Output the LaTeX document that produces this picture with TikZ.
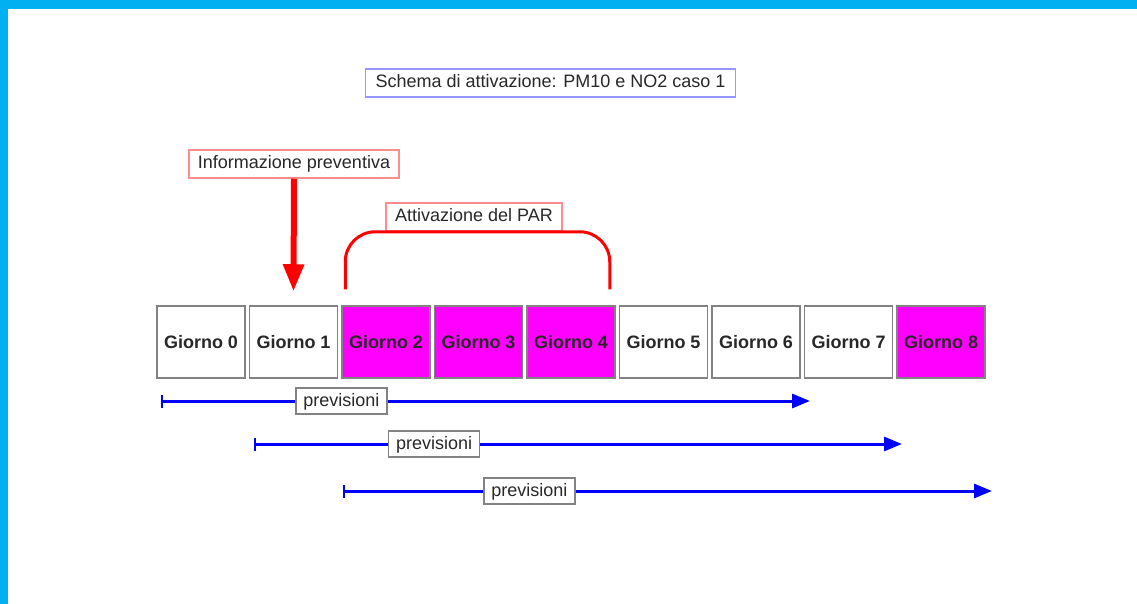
\documentclass[tikz,border=0pt]{standalone}
\usepackage{fontspec}
\setmainfont{Liberation Sans}
\usetikzlibrary{arrows.meta}

\definecolor{frame}{RGB}{0,176,240}
\definecolor{ink}{RGB}{40,40,40}
\definecolor{pinkred}{RGB}{255,140,140}
\definecolor{lilac}{RGB}{150,150,255}
\definecolor{boxgray}{RGB}{130,130,130}
\definecolor{fuchsia}{RGB}{255,0,255}

\tikzset{
	txt/.style={font=\fontsize{18}{21}\selectfont, text=ink},
	labelbox/.style={txt, draw=#1, line width=1.5pt, fill=white, inner sep=0pt, minimum height=28pt, text height=13pt, text depth=3pt},
	day/.style={txt, font=\fontsize{18}{21}\selectfont\bfseries, draw=boxgray, line width=1.5pt, fill=#1, inner sep=0pt, minimum width=88pt, minimum height=72pt},
	fcast/.style={draw=blue, line width=3pt, {Bar[width=13pt,line width=2pt]}-{Triangle[length=18pt,width=14pt]}},
}

\begin{document}
\begin{tikzpicture}[x=1pt, y=-1pt]

		\useasboundingbox (0,0) rectangle (1137,604);
		\fill[frame] (0,0) rectangle (1137,604);
		\fill[white] (8,9) rectangle (1137,604);

		\node[labelbox=lilac, minimum width=370pt] (title) at (550.5,83) {Schema di attivazione: PM10 e NO2 caso 1};

		% giorni
		\foreach \i/\c in {0/white,1/white,2/fuchsia,3/fuchsia,4/fuchsia,5/white,6/white,7/white,8/fuchsia}
			\node[day=\c] (g\i) at ({201+92.5*\i},342) {Giorno \i};

		\node[labelbox=pinkred, minimum width=210pt] (info) at (294,164) {Informazione preventiva};
		\draw[red, line width=6pt, -{Triangle[length=27pt,width=20pt]}] (info.south) -- ([yshift=14pt]g1.north);

		\node[labelbox=pinkred, minimum width=176pt] (par) at (474,217) {Attivazione del PAR};
		\draw[red, line width=3pt, rounded corners=30pt] ([xshift=4pt,yshift=16pt]g2.north west) |- (par.south) -| ([xshift=-6pt,yshift=16pt]g4.north east);

		% previsioni
		\foreach \i/\s/\e/\y/\p in {0/161/810/401/0.278,1/254/902/444/0.278,2/343/992/491/0.287} {
			\coordinate (s\i) at (\s,\y);
			\coordinate (e\i) at (\e,\y);
			\draw[fcast] (s\i) -- (e\i) node[pos=\p, labelbox=boxgray, minimum width=91pt, minimum height=26pt] (p\i) {previsioni};
		}

\end{tikzpicture}
\end{document}
